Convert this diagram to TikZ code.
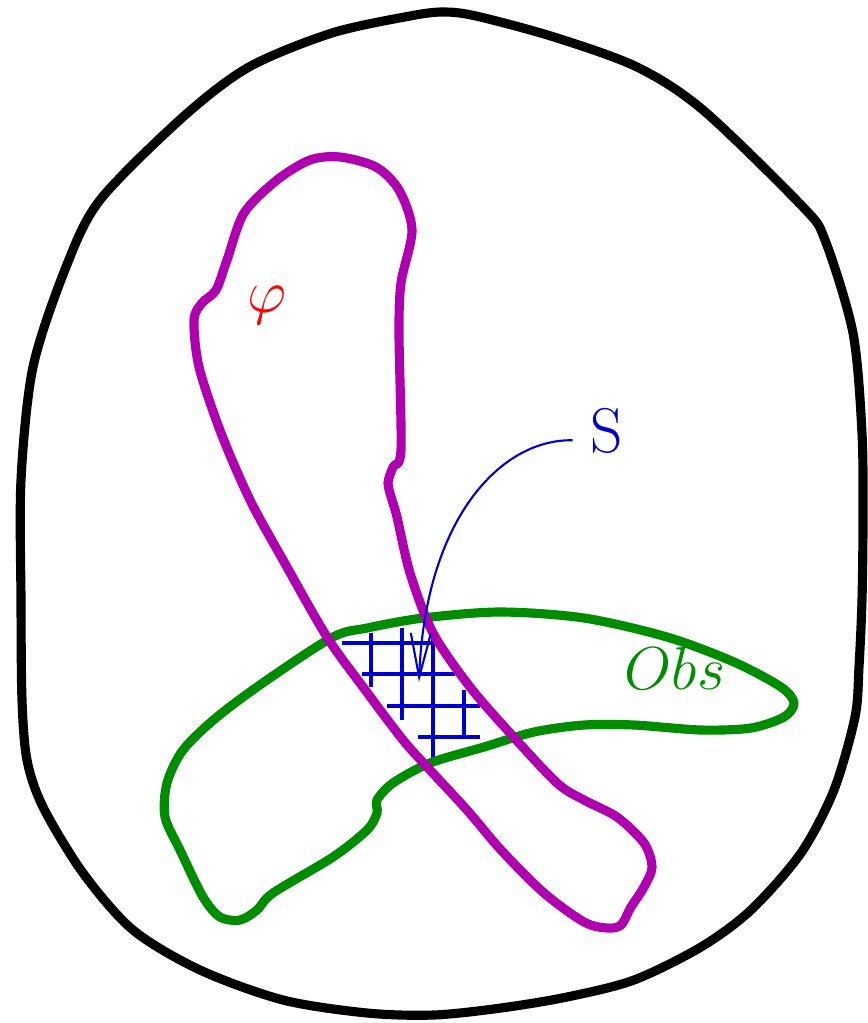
\documentclass[tikz,border=0pt]{standalone}
\usetikzlibrary{arrows.meta}
\definecolor{plum}{RGB}{175,0,175}
\definecolor{leaf}{RGB}{0,140,0}
\definecolor{ink}{RGB}{0,0,205}

\begin{document}
\begin{tikzpicture}[x=0.1mm,y=-0.1mm,
    rim/.style={line width=2.6pt,line join=round},
    net/.style={ink,line width=1.4pt},
    lbl/.style={inner sep=0pt,font=\fontsize{18}{18}\selectfont}]
  \useasboundingbox (0,0) rectangle (868,1023);
  % hatching of the overlap
  \foreach \y/\a/\b in {643/342/433,674/362/455,706/387/480,737/418/480} \draw[net] (\a,\y) -- (\b,\y);
  \foreach \x/\a/\b in {371/633/687,402/628/720,433/638/760,464/690/737} \draw[net] (\x,\a) -- (\x,\b);
  % the whole space
  \draw[rim] plot[smooth cycle] coordinates {(443,12) (476,16) (554,37) (637,67) (703,110) (803,207) (825,240)
    (853,333) (862,433) (863,520) (862,600) (859,667) (855,717) (834,790) (801,853) (751,910) (701,947)
    (634,980) (567,997) (501,1008) (434,1015) (367,1013) (283,1000) (200,970) (133,930) (83,873) (43,807)
    (27,760) (22,700) (21,600) (21,480) (33,367) (66,267) (100,200) (183,117) (249,67) (332,33) (410,16)};
  \node[lbl,text=leaf] (obs) at (675,668) {$Obs$};
  \draw[rim,leaf] plot[smooth cycle] coordinates {(500,612) (584,618) (667,637) (734,662) (781,687) (794,703)
    (784,717) (751,728) (701,730) (634,725) (584,725) (534,732) (484,747) (430,763) (393,783) (377,800)
    (377,813) (367,830) (333,857) (273,893) (257,910) (240,920) (220,917) (203,897) (180,850) (165,817)
    (167,783) (183,750) (217,717) (267,680) (333,637) (367,628) (423,618)};
  \draw[rim,plum] plot[smooth cycle] coordinates {(340,157) (376,167) (399,190) (412,230) (401,283) (399,333)
    (401,450) (393,467) (388,483) (392,500) (397,517) (410,573) (433,633) (470,687) (510,733) (557,783)
    (584,800) (617,817) (644,843) (652,867) (644,887) (631,907) (621,925) (607,928) (584,922) (544,893)
    (501,850) (467,810) (430,770) (403,740) (363,687) (327,637) (283,560) (250,500) (221,433) (199,367)
    (194,320) (202,303) (216,290) (227,260) (244,213) (277,180) (310,160)};
  \node[lbl,text=red] (phi) at (267,305) {$\varphi$};
  \node[lbl,text=ink,inner xsep=5pt] (S) at (607,431) {S};
  \coordinate (tip) at (419,682);
  \draw[ink,line width=0.6pt,-{Straight Barb[length=4.4mm,width=2mm]}] (S.195) .. controls (500,439) and (425,520) .. (tip);
\end{tikzpicture}
\end{document}
